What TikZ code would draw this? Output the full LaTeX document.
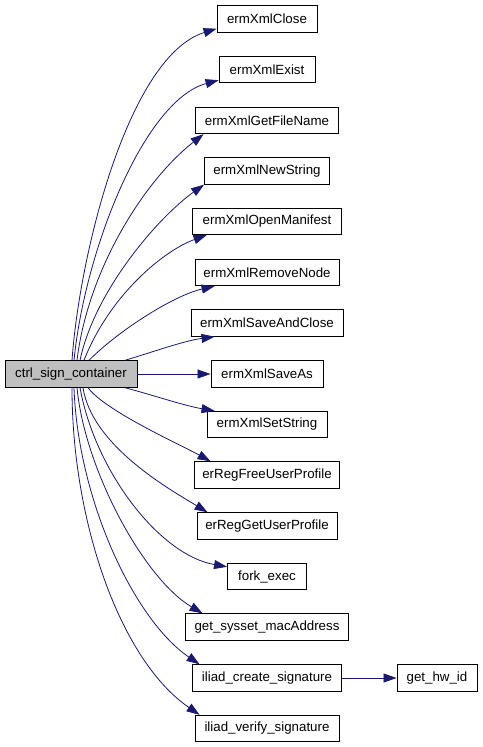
\documentclass[tikz,border=0pt]{standalone}
\usepackage{fontspec}
\setmainfont{Liberation Sans}
\usetikzlibrary{arrows.meta}
\definecolor{callclr}{HTML}{191970}
\tikzset{
  fn/.style={draw, line width=0.9bp, inner sep=1bp, minimum height=26.5bp,
    font=\fontsize{13.3bp}{16bp}\selectfont},
  call/.style={callclr, line width=0.8bp, -{Triangle[length=13bp, width=9bp]}},
}

\begin{document}
\begin{tikzpicture}[x=1bp, y=-1bp]
  \useasboundingbox (0,0) rectangle (483,747);

  % 调用者节点
  \node[fn, fill=black!25, minimum width=132bp] (root) at (71,374) {ctrl\_sign\_container};

  % 被调用函数节点
  % \n---节点名, \txt---函数名, \y---纵坐标, \w---框宽
  \foreach \n/\txt/\y/\w in
  {
    close/ermXmlClose/19/100,
    exist/ermXmlExist/69.5/96,
    fname/ermXmlGetFileName/120.5/143,
    newstr/ermXmlNewString/171/125,
    manif/ermXmlOpenManifest/221.5/149,
    rmnode/ermXmlRemoveNode/272.5/144,
    saveclose/ermXmlSaveAndClose/323/152,
    saveas/ermXmlSaveAs/374/112,
    setstr/ermXmlSetString/424.5/120,
    freeprof/erRegFreeUserProfile/475/145,
    getprof/erRegGetUserProfile/526/140,
    fork/fork\_exec/576.5/79,
    mac/get\_sysset\_macAddress/627/163,
    create/iliad\_create\_signature/678/149,
    verify/iliad\_verify\_signature/728.5/144}
  {
    \node[fn, minimum width=\w*1bp] (\n) at (267,\y) {\txt};
  }
  \node[fn, minimum width=80bp] (hwid) at (437,678) {get\_hw\_id};

  % 上方的调用边
  \draw[call] ([xshift=1bp]root.north) .. controls +(8,-111) and +(-87,27) .. ([yshift=4bp]close.south west);
  \draw[call] ([xshift=3bp]root.north) .. controls +(11,-111) and +(-74,20) .. ([yshift=3bp]exist.south west);
  \draw[call] ([xshift=6bp]root.north) .. controls +(11,-91) and +(-59,46) .. ([xshift=8.5bp]fname.south west);
  \draw[call] ([xshift=9bp]root.north) .. controls +(15,-71) and +(-44,31) .. (newstr.south west);
  \draw[call] ([xshift=13bp]root.north) .. controls +(26,-66) and +(-42,15) .. ([xshift=14.5bp]manif.south west);
  \draw[call] ([xshift=18bp]root.north) .. controls +(31,-31) and +(-40,9) .. ([xshift=20bp]rmnode.south west);
  \draw[call] ([xshift=54bp]root.north) .. controls +(30,-9) and +(-30,4) .. ([xshift=24bp]saveclose.south west);

  % 水平的调用边
  \draw[call] (root.east) -- (saveas.west);

  % 下方的调用边
  \draw[call] ([xshift=54bp]root.south) .. controls +(30,8) and +(-30,-5) .. ([xshift=8bp]setstr.north west);
  \draw[call] ([xshift=17bp]root.south) .. controls +(17,23) and +(-31,-17) .. ([xshift=16.5bp]freeprof.north west);
  \draw[call] ([xshift=12bp]root.south) .. controls +(9,58) and +(-38,-23) .. ([xshift=11bp]getprof.north west);
  \draw[call] ([xshift=9bp]root.south) .. controls +(15,83) and +(-68,-12) .. ([yshift=-4bp]fork.north west);
  \draw[call] ([xshift=6bp]root.south) .. controls +(8,83) and +(-58,-34) .. ([xshift=17.5bp]mac.north west);
  \draw[call] ([xshift=3bp]root.south) .. controls +(4,113) and +(-65,-44) .. ([xshift=7.5bp]create.north west);
  \draw[call] ([xshift=1bp]root.south) .. controls +(0,133) and +(-80,-55) .. ([xshift=5bp]verify.north west);

  % 第二层调用
  \draw[call] (create.east) -- (hwid.west);
\end{tikzpicture}
\end{document}
